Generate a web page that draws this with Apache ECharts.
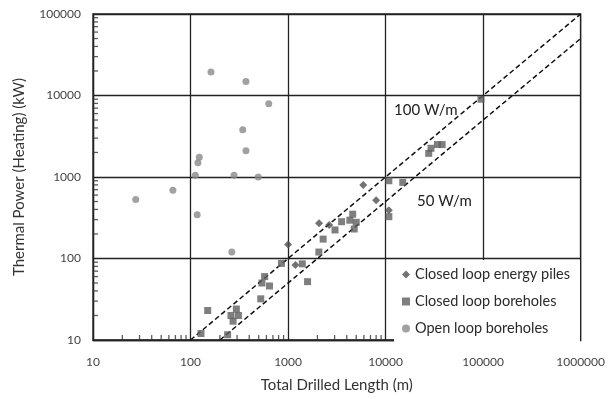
<!DOCTYPE html>
<html>
<head>
<meta charset="utf-8">
<script src="https://cdn.jsdelivr.net/npm/echarts@6/dist/echarts.min.js"></script>
<style>html,body{margin:0;padding:0;background:#fff;}#c{width:608px;height:399px;}</style>
</head>
<body>
<div id="c"></div>
<script>
// Data (Total drilled length [m], thermal power [kW])
const energyPiles = [[1000,148],[5900,800],[8000,520],[10800,390],[2080,270],[2640,258],[1190,83]];
const closedBoreholes = [
  [128,12],[240,11.6],[150,23],[260,20],[295,24],[273,17],[310,20],[525,32],[540,50],[575,60],[645,46],[855,87],
  [1400,86],[1585,52],[2070,120],[2290,173],[3030,224],[3540,283],[4300,295],[4600,350],[5000,278],[4770,230],
  [10800,900],[15000,860],[10800,326],[27700,1950],[29200,2250],[34000,2500],[38000,2500],[95000,9000]
];
const openBoreholes = [
  [162,19400],[370,14800],[634,7900],[343,3800],[370,2100],[123,1750],[119,1500],[112,1050],[279,1050],[494,1000],
  [66,690],[27.4,530],[117,345],[265,120]
];
const line100 = [[100,10],[1000000,100000]];
const line50 = [[200,10],[1000000,50000]];
const xTickLabels = ['10','100','1000','10000','100000','1000000'];
const yTickLabels = ['10','100','1000','10000','100000'];
const minorX = [20,30,40,50,60,70,80,90,200,300,400,500,600,700,800,900,2000,3000,4000,5000,6000,7000,8000,9000,
  20000,30000,40000,50000,60000,70000,80000,90000,200000,300000,400000,500000,600000,700000,800000,900000];
const minorY = [20,30,40,50,60,70,80,90,200,300,400,500,600,700,800,900,2000,3000,4000,5000,6000,7000,8000,9000,
  20000,30000,40000,50000,60000,70000,80000,90000];

const FONT = 'Lato';
const chart = echarts.init(document.getElementById('c'), null, {renderer: 'canvas'});
const dash = {type: 'line', symbol: 'none', silent: true, z: 3,
  lineStyle: {color: '#111', width: 1.5, type: [5, 3]}};
chart.setOption({
  animation: false,
  backgroundColor: '#fff',
  textStyle: {fontFamily: FONT},
  grid: {left: 93, right: 24, top: 14, bottom: 59, show: true, borderColor: '#222', borderWidth: 1.3},
  xAxis: {
    type: 'log', logBase: 10, min: 10, max: 1000000,
    name: 'Total Drilled Length (m)', nameLocation: 'middle', nameGap: 38,
    nameTextStyle: {fontSize: 15, color: '#333', fontFamily: FONT},
    axisLine: {show: true, lineStyle: {color: '#222', width: 1.3}},
    axisTick: {show: false},
    axisLabel: {fontSize: 12, color: '#444', margin: 16, fontFamily: FONT,
      formatter: v => xTickLabels[Math.round(Math.log10(v)) - 1]},
    splitLine: {show: true, lineStyle: {color: '#222', width: 1.3}}
  },
  yAxis: {
    type: 'log', logBase: 10, min: 10, max: 100000,
    name: 'Thermal Power (Heating) (kW)', nameLocation: 'middle', nameGap: 66,
    nameTextStyle: {fontSize: 15, color: '#333', fontFamily: FONT},
    axisLine: {show: true, lineStyle: {color: '#222', width: 1.3}},
    axisTick: {show: false},
    axisLabel: {fontSize: 12, color: '#444', margin: 12, fontFamily: FONT,
      formatter: v => yTickLabels[Math.round(Math.log10(v)) - 1]},
    splitLine: {show: true, lineStyle: {color: '#222', width: 1.3}}
  },
  legend: {
    orient: 'vertical', left: 394, top: 260, width: 190,
    backgroundColor: '#fff', padding: [7, 10, 7, 8], itemGap: 12,
    itemWidth: 8, itemHeight: 8, z: 10,
    textStyle: {fontSize: 14.5, color: '#2a2a2a', fontFamily: FONT, lineHeight: 14},
    data: [
      {name: 'Closed loop energy piles', icon: 'diamond'},
      {name: 'Closed loop boreholes', icon: 'rect'},
      {name: 'Open loop boreholes', icon: 'circle'}
    ]
  },
  graphic: [
    {type: 'text', left: 394, top: 103, style: {text: '100 W/m', fontSize: 15, fill: '#222', fontFamily: FONT}},
    {type: 'text', left: 417, top: 194, style: {text: '50 W/m', fontSize: 15, fill: '#222', fontFamily: FONT}}
  ],
  series: [
    Object.assign({name: '100 W/m', data: line100}, dash),
    Object.assign({name: '50 W/m', data: line50}, dash),
    {name: 'Closed loop energy piles', type: 'scatter', symbol: 'diamond', symbolSize: 8, z: 5,
      itemStyle: {color: '#4f4f4f'}, data: energyPiles},
    {name: 'Closed loop boreholes', type: 'scatter', symbol: 'rect', symbolSize: 7, z: 5,
      itemStyle: {color: '#5f5f5f'}, data: closedBoreholes},
    {name: 'Open loop boreholes', type: 'scatter', symbol: 'circle', symbolSize: 7, z: 5,
      itemStyle: {color: '#8a8a8a'}, data: openBoreholes},
    {name: 'minorX', type: 'scatter', symbol: 'rect', symbolSize: [1.3, 5], symbolOffset: [0, -2.5],
      silent: true, clip: false, z: 4, itemStyle: {color: '#333'}, data: minorX.map(v => [v, 10])},
    {name: 'minorY', type: 'scatter', symbol: 'rect', symbolSize: [5, 1.3], symbolOffset: [2.5, 0],
      silent: true, clip: false, z: 4, itemStyle: {color: '#333'}, data: minorY.map(v => [10, v])}
  ]
});
</script>
</body>
</html>
